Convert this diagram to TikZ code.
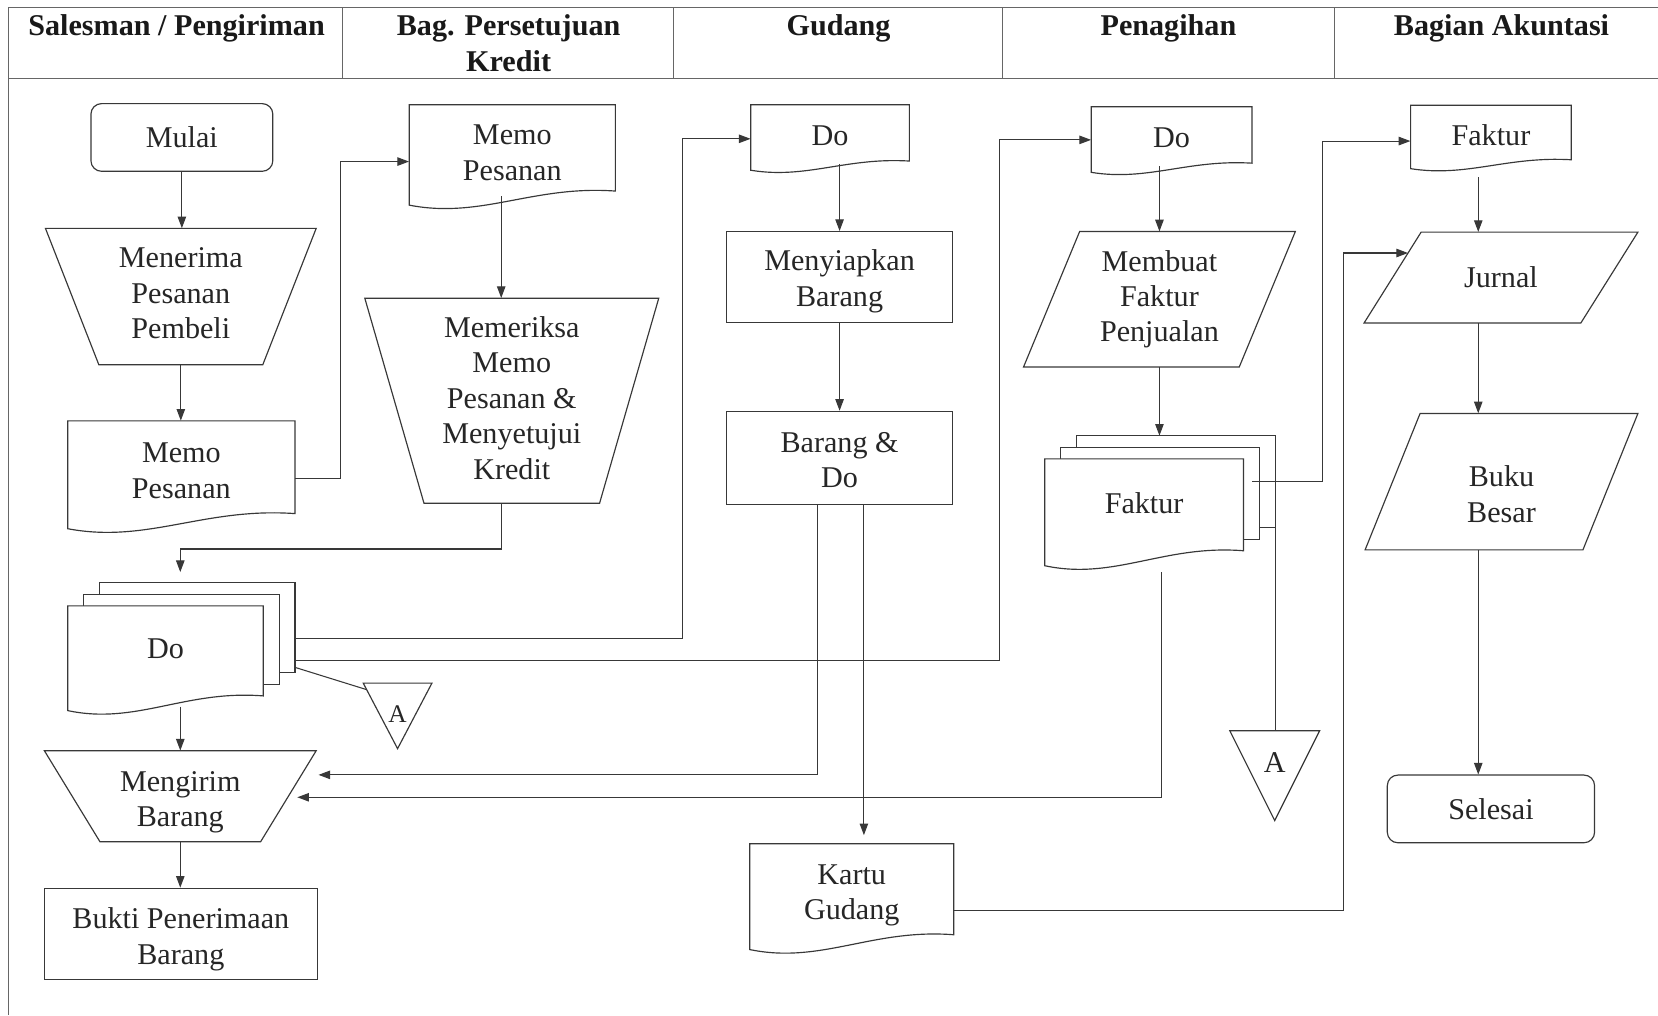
\documentclass[tikz,border=0pt]{standalone}
\usepackage{fontspec}
\setmainfont{Liberation Serif}
\usetikzlibrary{arrows.meta,calc}
\definecolor{linec}{gray}{0.22}
\tikzset{
  shp/.style={draw=linec, line width=1.1pt, fill=white},
  txt/.style={inner sep=0pt, align=center, text=black!85, font=\fontsize{28.5}{33.5}\selectfont},
  con/.style={draw=linec, line width=1pt},
  arr/.style={con, -{Triangle[length=11pt,width=8pt]}},
  frame/.style={draw=black!60, line width=1.4pt},
  hdr/.style={inner sep=0pt, align=center, anchor=north, text=black!90, font=\bfseries\fontsize{28.5}{34}\selectfont},
}
% [style] name cx cy w h text textoffset
\newcommand{\rectnode}[8][]{%
  \node[shp, #1, inner sep=0pt, minimum width=#5pt, minimum height=#6pt] (#2) at (#3,#4) {};
  \node[txt] (#2-t) at (#3,{#4+#8}) {#7};}
% name cx cy topw botw h text textoffset
\newcommand{\manop}[8]{%
  \path[shp] ({#2-#4/2},{#3-#6/2}) -- ({#2+#4/2},{#3-#6/2}) -- ({#2+#5/2},{#3+#6/2}) -- ({#2-#5/2},{#3+#6/2}) -- cycle;
  \node[inner sep=0pt, minimum width=#4pt, minimum height=#6pt] (#1) at (#2,#3) {};
  \node[txt] (#1-t) at (#2,{#3+#8}) {#7};}
% name cx cy w h slant text textoffset
\newcommand{\paranode}[8]{%
  \path[shp] ({#2-#4/2+#6},{#3-#5/2}) coordinate (#1-tl) -- ({#2+#4/2},{#3-#5/2}) -- ({#2+#4/2-#6},{#3+#5/2}) -- ({#2-#4/2},{#3+#5/2}) coordinate (#1-bl) -- cycle;
  \node[inner sep=0pt, minimum width=#4pt, minimum height=#5pt] (#1) at (#2,#3) {};
  \node[txt] (#1-t) at (#2,{#3+#8}) {#7};}
% name x0 y0 w H text textoffset
\newcommand{\docnode}[7]{%
  \path[shp] (#2,#3) -- ({#2+#4},#3) -- ({#2+#4},{#3+0.86*#5}) .. controls ({#2+0.6*#4},{#3+0.8*#5}) and ({#2+0.35*#4},{#3+1.14*#5}) .. (#2,{#3+#5}) -- cycle;
  \node[inner sep=0pt, minimum width=#4pt, minimum height={0.88*#5pt}] (#1) at ({#2+#4/2},{#3+0.44*#5}) {};
  \node[txt] (#1-t) at ({#2+#4/2},{#3+0.44*#5+#7}) {#6};}
% name x0 y0 w H dx dy text textoffset
\newcommand{\multidoc}[9]{%
  \path[shp] ({#2+2*#6},{#3-2*#7}) rectangle ({#2+#4+2*#6},{#3+0.86*#5-2*#7});
  \coordinate (#1-bne) at ({#2+#4+2*#6},{#3-2*#7});
  \coordinate (#1-bse) at ({#2+#4+2*#6},{#3+0.86*#5-2*#7});
  \path[shp] ({#2+#6},{#3-#7}) rectangle ({#2+#4+#6},{#3+0.86*#5-#7});
  \docnode{#1}{#2}{#3}{#4}{#5}{#8}{#9}}
% name cx top w h texty text
\newcommand{\trinode}[7]{%
  \path[shp] ({#2-#4/2},#3) coordinate (#1-tl) -- ({#2+#4/2},#3) -- (#2,{#3+#5}) coordinate (#1-apex) -- cycle;
  \coordinate (#1-top) at (#2,#3);
  \node[txt] (#1) at (#2,#6) {#7};}
\begin{document}
\begin{tikzpicture}[x=1pt,y=-1pt]
\useasboundingbox (0,0) rectangle (1568,960);
\fill[white] (0,0) rectangle (1568,960);
% frame and header
\draw[frame] (8,960) -- (8,7) -- (1568,7);
\draw[frame] (8,74) -- (1568,74);
\foreach \xx in {324,637,948,1262} \draw[frame] (\xx,7) -- (\xx,74);
\node[hdr] (h1) at (167,14) {Salesman / Pengiriman};
\node[hdr] (h2) at (481,14) {Bag. Persetujuan\\Kredit};
\node[hdr] (h3) at (793,14) {Gudang};
\node[hdr] (h4) at (1105,14) {Penagihan};
\node[hdr] (h5) at (1420,14) {Bagian Akuntasi};
% lane 1
\rectnode[rounded corners=10pt]{mulai}{172}{130}{172}{64}{Mulai}{0}
\manop{menerima}{171}{280.5}{256}{155}{129}{Menerima\\Pesanan\\Pembeli}{-3}
\docnode{memo1}{64}{398}{215}{102}{Memo\\Pesanan}{2.5}
\multidoc{do1}{64}{573}{185}{99}{15}{11}{Do}{-3}
\trinode{A1}{376}{646}{65}{62}{675}{\fontsize{24}{28}\selectfont A}
\manop{mengirim}{170.5}{753}{257}{152}{86}{Mengirim\\Barang}{5.5}
\rectnode{bukti}{171}{883}{258}{86}{Bukti Penerimaan\\Barang}{5.5}
% lane 2
\docnode{memo2}{387}{99}{195}{95}{Memo\\Pesanan}{3.5}
\manop{memeriksa}{484}{379}{278}{166}{194}{Memeriksa\\Memo\\Pesanan \&\\Menyetujui\\Kredit}{-2.5}
% lane 3
\docnode{do3}{710}{99}{150}{62}{Do}{2}
\rectnode{menyiapkan}{794}{262}{214}{86}{Menyiapkan\\Barang}{4}
\rectnode{barang}{794}{433}{214}{88}{Barang \&\\Do}{2}
\docnode{kartu}{709}{798}{193}{100}{Kartu\\Gudang}{5}
% lane 4
\docnode{do4}{1032}{101}{152}{62}{Do}{2}
\paranode{membuat}{1096.5}{283}{257}{128}{53}{Membuat\\Faktur\\Penjualan}{0}
\multidoc{fak}{988}{434}{188}{101}{15}{11}{Faktur}{-3}
\trinode{A2}{1205.5}{691}{85}{85}{721}{A}
% lane 5
\docnode{fak5}{1334}{99.5}{152}{60}{Faktur}{2}
\paranode{jurnal}{1419.5}{262.5}{259}{86}{54}{Jurnal}{0}
\paranode{buku}{1420}{455.5}{258}{129}{52}{Buku\\Besar}{12}
\rectnode[rounded corners=10pt]{selesai}{1410}{765}{196}{64}{Selesai}{0}
% connectors
\draw[arr] (mulai.south) -- (mulai.south |- menerima.north);
\draw[arr] (menerima.south) -- (menerima.south |- memo1.north);
\draw[arr] ([yshift=-10pt]memo1.east) -| ($(memo2.west)+(-65,12)$) -- ($(memo2.west)+(0,12)$);
\draw[arr] ($(memo2.south)+(-10.5,3)$) -- ($(memeriksa.north)+(-10,0)$);
\draw[arr] ($(memeriksa.south)+(-10,0)$) -- ++(0,43) -| ($(mengirim.north |- do1-bne)+(0,-10)$);
\draw[arr] ($(mengirim.north |- do1.south)+(0,8)$) -- (mengirim.north);
\draw[arr] (do1-bne |- 0,604) -| ($(do3.west)+(-64,5)$) -- ($(do3.west)+(0,5)$);
\draw[arr] (do1-bne |- 0,625) -| ($(do4.west)+(-87,4)$) -- ($(do4.west)+(0,4)$);
\draw[con] ([yshift=5pt]do1-bse) -- ($(A1-tl)!0.1!(A1-apex)$);
\draw[arr] (mengirim.south) -- (mengirim.south |- bukti.north);
\draw[arr] ($(menyiapkan.north |- do3.south)+(0,1.5)$) -- (menyiapkan.north);
\draw[arr] (menyiapkan.south) -- (barang.north);
\draw[arr] ($(barang.south)+(-21,0)$) |- ($(mengirim.north east)+(2,23)$);
\coordinate (bk) at ($(barang.south)+(23,0)$);
\draw[arr] (bk) -- ($(bk |- kartu.north)+(0,-8)$);
\coordinate (jin) at ($(jurnal-tl)!0.23!(jurnal-bl)$);
\draw[arr] ($(kartu.east)+(0,19)$) -| ($(jin)+(-61,0)$) -- (jin);
\draw[arr] ($(membuat.north |- do4.south)+(0,1.5)$) -- (membuat.north);
\draw[arr] (membuat.south) -- (membuat.south |- fak-bne);
\draw[arr] ($(fak.south)+(16,18)$) |- ($(mengirim.east)+(-18,1)$);
\draw[con] (fak-bse) -- (fak-bse |- A2-top);
\draw[arr] ($(fak.east)+(8,-23)$) -| ($(fak5.west)+(-83,7.5)$) -- ($(fak5.west)+(0,7.5)$);
\draw[arr] ($(fak5.south)+(-12,15)$) -- ($(jurnal.north)+(-21.5,0)$);
\draw[arr] ($(jurnal.south)+(-21.5,0)$) -- ($(buku.north)+(-22,0)$);
\draw[arr] ($(buku.south)+(-22,0)$) -- ($(selesai.north)+(-12,0)$);
\end{tikzpicture}
\end{document}
